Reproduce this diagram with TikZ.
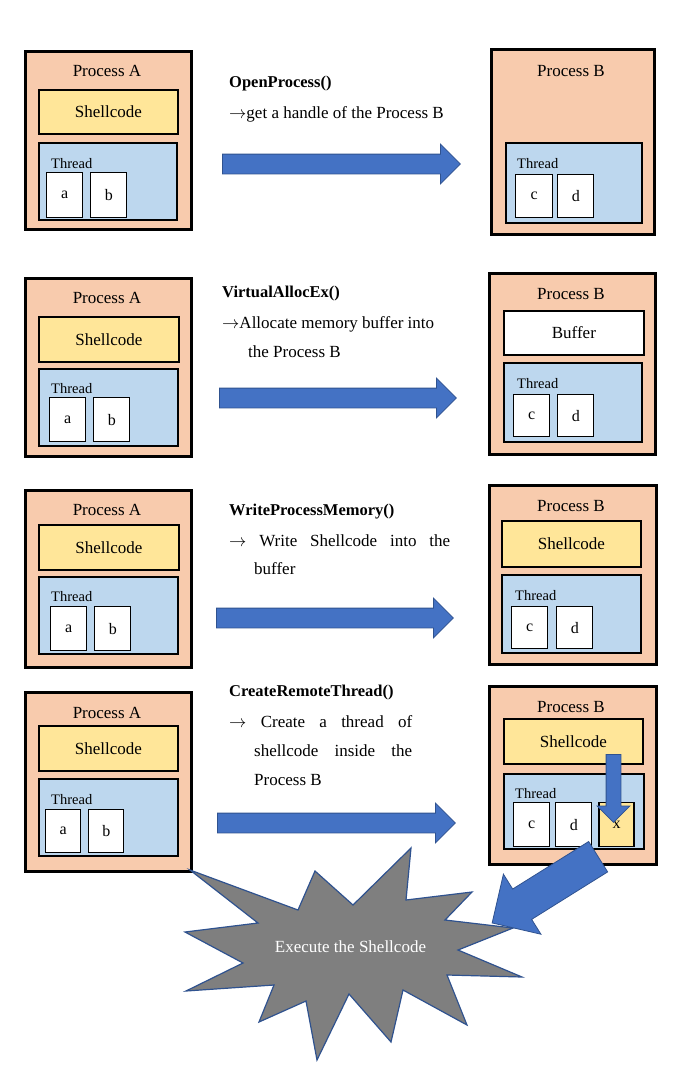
\documentclass[tikz,border=0pt]{standalone}
\usepackage{fontspec}
\setmainfont{Liberation Serif}
\usepackage{tikz}
\usetikzlibrary{shapes.arrows, positioning}
\definecolor{procfill}{HTML}{F8CBAD}
\definecolor{codefill}{HTML}{FFE699}
\definecolor{threadfill}{HTML}{BDD7EE}
\definecolor{arrowblue}{HTML}{4472C4}
\definecolor{arrowedge}{HTML}{2F528F}
\definecolor{burstgrey}{HTML}{7F7F7F}

\begin{document}
\begin{tikzpicture}[
        x=1pt, y=-1pt,
        proc/.style = {draw, fill=procfill, line width=2.6pt, anchor=north west, inner sep=0pt},
        code/.style = {draw, fill=codefill, line width=1.8pt, anchor=north west, inner sep=0pt, font=\fontsize{17}{20}\selectfont},
        buf/.style = {code, fill=white},
        thread/.style = {draw, fill=threadfill, line width=1.8pt, anchor=north west, inner sep=0pt},
        slot/.style = {draw, fill=white, line width=1.2pt, anchor=north west, inner sep=0pt, font=\fontsize{16}{18}\selectfont},
        title/.style = {inner sep=0pt, font=\fontsize{17}{20}\selectfont},
        tlabel/.style = {anchor=west, inner sep=0pt, font=\fontsize{14.5}{16}\selectfont},
        call/.style = {anchor=west, inner sep=0pt, font=\bfseries\fontsize{16.5}{20}\selectfont},
        note/.style = {anchor=west, inner sep=0pt, font=\fontsize{17}{20}\selectfont},
        bigarrow/.style = {single arrow, draw=arrowedge, fill=arrowblue, line width=0.8pt, inner sep=0pt, inner ysep=9.5pt, anchor=tail, single arrow head extend=10pt},
        burst/.style = {draw=arrowedge, fill=burstgrey, line width=1.2pt}
    ]
        \useasboundingbox (0,0) rectangle (681,1080);

        % Row 1: OpenProcess
        \node (pA1) [proc, minimum width=166, minimum height=178] at (24,50) {};
        \node (tA1) [title] at (107,71) {Process A};
        \node (sA1) [code, minimum width=139, minimum height=44] at (38,89) {Shellcode};
        \node (thA1) [thread, minimum width=138, minimum height=77] at (38,142) {};
        \node (lA1) [tlabel] at (51,164) {Thread};
        \node (aA1) [slot, minimum width=36, minimum height=45] at (46,172) {a};
        \node (bA1) [slot, minimum width=36, minimum height=45, right=7pt of aA1] {b};

        \node (pB1) [proc, minimum width=163, minimum height=185] at (490,48) {};
        \node (tB1) [title] at (571,71) {Process B};
        \node (thB1) [thread, minimum width=136, minimum height=80] at (505,142) {};
        \node (lB1) [tlabel] at (517,164) {Thread};
        \node (cB1) [slot, minimum width=37, minimum height=43] at (515,174) {c};
        \node (dB1) [slot, minimum width=36, minimum height=43, right=4pt of cB1] {d};

        \node (fn1) [call] at (229,84) {OpenProcess()};
        \node (nt1) [note] at (229,114) {$\rightarrow$get a handle of the Process B};
        \node (arr1) [bigarrow, minimum height=238] at (222,164) {};

        % Row 2: VirtualAllocEx
        \node (pA2) [proc, minimum width=166, minimum height=178] at (24,277) {};
        \node (tA2) [title] at (107,298) {Process A};
        \node (sA2) [code, minimum width=140, minimum height=45] at (38,316) {Shellcode};
        \node (thA2) [thread, minimum width=139, minimum height=77] at (38,368) {};
        \node (lA2) [tlabel] at (51,389) {Thread};
        \node (aA2) [slot, minimum width=36, minimum height=44] at (49,397) {a};
        \node (bA2) [slot, minimum width=36, minimum height=44, right=7pt of aA2] {b};

        \node (pB2) [proc, minimum width=166, minimum height=181] at (488,272) {};
        \node (tB2) [title] at (571,294) {Process B};
        \node (bufB2) [buf, minimum width=140, minimum height=44] at (503,310) {Buffer};
        \node (thB2) [thread, minimum width=138, minimum height=79] at (503,362) {};
        \node (lB2) [tlabel] at (517,384) {Thread};
        \node (cB2) [slot, minimum width=36, minimum height=42] at (513,394) {c};
        \node (dB2) [slot, minimum width=36, minimum height=42, right=7pt of cB2] {d};

        \node (fn2) [call] at (222,294) {VirtualAllocEx()};
        \node (nt2) [note] at (222,324) {$\rightarrow$Allocate memory buffer into};
        \node (nt2b) [note] at (248,352) {the Process B};
        \node (arr2) [bigarrow, minimum height=237] at (219,398) {};

        % Row 3: WriteProcessMemory
        \node (pA3) [proc, minimum width=166, minimum height=177] at (24,489) {};
        \node (tA3) [title] at (107,510) {Process A};
        \node (sA3) [code, minimum width=140, minimum height=45] at (38,524) {Shellcode};
        \node (thA3) [thread, minimum width=139, minimum height=77] at (38,576) {};
        \node (lA3) [tlabel] at (51,597) {Thread};
        \node (aA3) [slot, minimum width=36, minimum height=44] at (50,606) {a};
        \node (bA3) [slot, minimum width=36, minimum height=44, right=7pt of aA3] {b};

        \node (pB3) [proc, minimum width=167, minimum height=179] at (488,484) {};
        \node (tB3) [title] at (571,506) {Process B};
        \node (sB3) [code, minimum width=139, minimum height=46] at (501,520) {Shellcode};
        \node (thB3) [thread, minimum width=139, minimum height=78] at (501,574) {};
        \node (lB3) [tlabel] at (515,596) {Thread};
        \node (cB3) [slot, minimum width=36, minimum height=42] at (511,606) {c};
        \node (dB3) [slot, minimum width=36, minimum height=42, right=8pt of cB3] {d};

        \node (fn3) [call] at (229,512) {WriteProcessMemory()};
        \node (nt3) [note] at (229,541) {\makebox[221pt][s]{$\rightarrow$ Write Shellcode into the}};
        \node (nt3b) [note] at (254,569) {buffer};
        \node (arr3) [bigarrow, minimum height=237] at (216,618) {};

        % Row 4: CreateRemoteThread
        \node (pA4) [proc, minimum width=166, minimum height=179] at (24,691) {};
        \node (tA4) [title] at (107,713) {Process A};
        \node (sA4) [code, minimum width=139, minimum height=45] at (38,725) {Shellcode};
        \node (thA4) [thread, minimum width=139, minimum height=77] at (38,778) {};
        \node (lA4) [tlabel] at (51,800) {Thread};
        \node (aA4) [slot, minimum width=35, minimum height=43] at (45,809) {a};
        \node (bA4) [slot, minimum width=35, minimum height=43, right=7pt of aA4] {b};

        \node (pB4) [proc, minimum width=167, minimum height=178] at (488,685) {};
        \node (tB4) [title] at (571,707) {Process B};
        \node (sB4) [code, minimum width=139, minimum height=45] at (503,718) {Shellcode};
        \node (thB4) [thread, minimum width=140, minimum height=75] at (503,773) {};
        \node (lB4) [tlabel] at (515,794) {Thread};
        \node (cB4) [slot, minimum width=36, minimum height=44] at (513,802) {c};
        \node (dB4) [slot, minimum width=36, minimum height=44, right=5pt of cB4] {d};
        \node (xB4) [slot, fill=codefill, minimum width=35, minimum height=44, right=6pt of dB4] {x};

        \node (fn4) [call] at (229,693) {CreateRemoteThread()};
        \node (nt4) [note] at (229,722) {\makebox[183pt][s]{$\rightarrow$ Create a thread of}};
        \node (nt4b) [note] at (254,751) {\makebox[158pt][s]{shellcode inside the}};
        \node (nt4c) [note] at (254,780) {Process B};
        \node (arr4) [bigarrow, minimum height=238] at (217,823) {};
        \node (drop) [bigarrow, inner ysep=7pt, single arrow head extend=9pt, minimum height=68, rotate=-90] at (613.5,754) {};

        % Burst
        \draw [burst] (190,870) -- (298,910) -- (315,871) -- (353,905) -- (411,848) -- (406,900)
            -- (472,892) -- (445,920) -- (513,928) -- (458,950) -- (522,977) -- (447,975)
            -- (467,1025) -- (403,990) -- (391,1042) -- (349,994) -- (317,1060) -- (306,1001)
            -- (259,1022) -- (274,985) -- (186,991) -- (243,963) -- (185,932) -- (258,923) -- cycle;
        \node (exec) [title, text=white] at (350.5,947) {Execute the Shellcode};
        \node (hit) [bigarrow, inner ysep=17.5pt, single arrow head extend=17.5pt, minimum height=125, rotate=212] at (598.5,856.5) {};

\end{tikzpicture}
\end{document}
